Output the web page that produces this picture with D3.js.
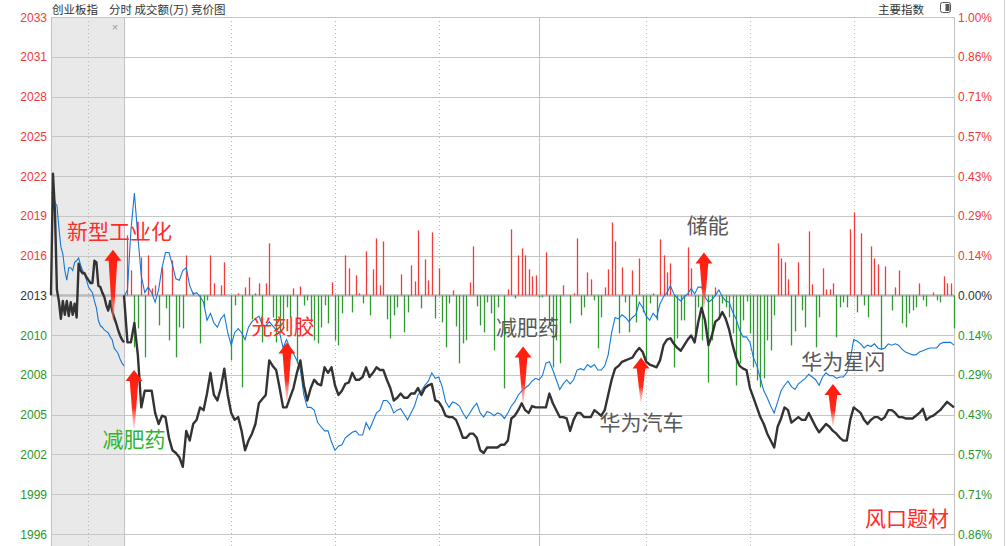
<!DOCTYPE html>
<html><head><meta charset="utf-8">
<script src="https://cdn.jsdelivr.net/npm/d3@7/dist/d3.min.js"></script>
<style>
html,body{margin:0;padding:0;background:#fff;}
svg{display:block;font-family:"Liberation Sans",Arial,sans-serif;}
</style></head><body>
<svg id="c" width="1007" height="546"></svg>
<script>
// ---------------- data ----------------
const basePrice = 2013.1;
const leftTickLabels = ["2033","2031","2028","2025","2022","2019","2016","2013","2010","2008","2005","2002","1999","1996"];
const rightTickLabels = ["1.00%","0.86%","0.71%","0.57%","0.43%","0.29%","0.14%","0.00%","0.14%","0.29%","0.43%","0.57%","0.71%","0.86%"];
const tickSteps = [7,6,5,4,3,2,1,0,-1,-2,-3,-4,-5,-6]; // in 1/7 percent
const gridMinutes = [31,61,91,151,181,211];
const noonMinute = 120;

// call-auction (9:15-9:25) samples
const auctionPrice = [2013.1,2021.9,2019.2,2013.5,2012.7,2011.4,2012.7,2011.7,2012.7,2011.6,2012.6,2011.7,2012.5,2011.5,
  2015.4,2014.9,2014.7,2014.7,2014.4,2014.2,2014.0,2014.0,2015.6,2015.5,2013.8,2013.7,2013.3,2013.0,2012.4,2012.0,
  2012.7,2012.0,2011.5,2011.1,2010.6,2010.2,2009.9,2009.7];
const auctionAvg = [2020.5,2020.5,2019.8,2019.6,2018.0,2016.6,2016.1,2014.9,2014.2,2015.1,2015.1,2014.9,2015.5,2015.6,
  2015.8,2015.3,2014.9,2014.7,2014.2,2013.7,2013.5,2013.3,2012.7,2012.2,2011.3,2010.9,2010.8,2010.6,2010.5,2010.4,
  2010.1,2009.9,2009.3,2009.1,2008.9,2008.5,2008.2,2008.0];

// minute series 9:30 .. 15:00 (241 points)
const priceLine = [
2013.1,2009.7,2009.7,2011.1,2008.8,2005.0,2006.2,2006.2,2006.2,2004.6,
2003.8,2004.4,2004.3,2002.8,2001.9,2001.7,2001.4,2000.7,2003.3,2002.6,
2003.8,2004.1,2005.0,2004.8,2006.0,2007.5,2005.9,2005.5,2006.4,2007.8,
2005.9,2004.6,2004.1,2004.3,2003.3,2001.9,2002.6,2003.1,2003.8,2005.3,
2005.6,2005.9,2008.4,2008.0,2007.7,2006.4,2005.0,2005.0,2005.7,2006.4,
2007.5,2008.4,2006.6,2005.5,2006.4,2007.0,2006.7,2006.6,2007.9,2007.5,
2007.9,2006.6,2005.9,2006.2,2006.7,2006.8,2007.5,2007.0,2007.0,2007.2,
2007.9,2007.2,2007.5,2007.9,2007.7,2007.7,2007.0,2006.4,2005.5,2005.7,
2006.0,2005.7,2005.7,2006.0,2006.0,2006.4,2005.9,2006.4,2006.6,2006.7,
2005.5,2005.4,2005.0,2004.4,2004.3,2004.3,2004.1,2003.5,2002.8,2002.8,
2003.1,2003.1,2002.8,2001.9,2001.7,2002.1,2002.1,2002.1,2002.1,2002.3,
2002.3,2002.6,2004.2,2004.4,2004.8,2005.3,2004.8,2004.6,2005.1,2005.0,
2005.0,2005.0,2005.0,2006.0,2005.3,2004.8,2004.3,2004.3,2004.2,2003.3,
2004.1,2004.6,2004.6,2004.3,2004.3,2004.3,2004.8,2004.6,2004.4,2004.8,
2005.9,2007.0,2007.8,2008.0,2008.3,2008.4,2008.5,2008.6,2009.0,2009.3,
2009.0,2008.3,2008.1,2008.0,2007.9,2008.4,2009.5,2009.9,2010.0,2009.6,
2009.3,2009.1,2009.5,2009.9,2010.2,2009.7,2011.1,2012.2,2011.3,2009.5,
2010.2,2011.2,2011.4,2011.9,2011.4,2010.6,2009.5,2008.6,2008.0,2007.8,
2007.7,2006.4,2005.7,2005.0,2004.3,2003.8,2003.1,2002.6,2002.1,2003.6,
2004.2,2005.0,2004.8,2003.9,2004.1,2004.3,2004.1,2004.1,2004.6,2004.1,
2003.6,2003.2,2003.5,2003.8,2003.6,2003.3,2003.1,2002.8,2002.6,2002.6,
2004.1,2005.0,2004.8,2004.6,2004.1,2003.8,2004.1,2004.3,2004.3,2004.1,
2004.3,2004.8,2004.8,2004.6,2004.3,2004.3,2004.2,2004.2,2004.2,2004.4,
2004.6,2004.9,2004.1,2004.3,2004.4,2004.6,2004.8,2005.1,2005.4,2005.2,2005.0];

const avgLine = [
2013.0,2013.5,2017.8,2020.5,2017.4,2014.5,2013.3,2013.7,2013.3,2012.6,
2013.5,2015.1,2016.2,2016.2,2015.3,2014.3,2014.2,2014.9,2015.1,2013.8,
2013.2,2013.3,2013.0,2012.6,2011.3,2011.8,2011.1,2010.8,2011.4,2011.7,
2010.4,2009.5,2010.4,2010.7,2010.4,2009.9,2010.8,2011.2,2011.4,2011.6,
2011.0,2010.9,2011.2,2010.9,2010.6,2010.4,2009.3,2009.9,2009.3,2008.9,
2008.4,2007.7,2005.9,2005.0,2005.0,2004.8,2003.9,2003.6,2003.3,2003.3,
2002.5,2001.9,2002.2,2002.3,2002.8,2003.0,2003.2,2003.3,2003.0,2003.0,
2003.9,2003.4,2004.0,2004.6,2004.8,2005.5,2005.5,2005.2,2004.6,2004.8,
2004.9,2004.5,2004.1,2004.6,2005.1,2005.9,2006.2,2006.6,2006.9,2007.5,
2007.1,2007.2,2006.5,2005.4,2005.0,2005.4,2005.3,2005.1,2004.6,2004.2,
2004.6,2005.0,2005.3,2004.6,2004.3,2004.7,2004.6,2004.4,2004.6,2004.5,
2004.2,2004.6,2005.1,2005.4,2005.9,2006.2,2006.4,2006.6,2006.9,2007.1,
2007.0,2007.3,2008.2,2008.3,2007.7,2007.0,2006.3,2006.7,2007.0,2006.7,
2007.0,2007.7,2007.8,2007.7,2008.1,2007.9,2008.1,2007.7,2007.7,2008.0,
2008.8,2010.4,2011.5,2011.4,2011.7,2011.5,2011.2,2011.5,2011.7,2012.6,
2012.2,2011.6,2011.3,2011.8,2011.5,2012.5,2013.0,2013.3,2013.8,2013.2,
2012.9,2012.7,2013.0,2013.2,2013.6,2013.2,2013.7,2013.7,2013.0,2012.6,
2012.8,2013.1,2013.5,2013.0,2012.7,2012.6,2011.9,2011.4,2010.6,2010.1,
2010.1,2009.7,2008.6,2008.0,2007.1,2006.2,2005.7,2005.1,2004.6,2005.4,
2006.2,2006.6,2006.9,2006.5,2006.3,2006.7,2006.9,2007.1,2007.4,2007.2,
2007.0,2006.6,2007.2,2007.5,2007.3,2007.3,2007.1,2007.2,2007.2,2007.5,
2008.5,2009.9,2009.8,2009.6,2009.3,2009.5,2009.4,2009.6,2009.3,2009.2,
2009.3,2009.6,2009.5,2009.6,2009.5,2009.2,2009.0,2008.9,2008.8,2008.8,
2009.0,2009.1,2009.2,2009.3,2009.3,2009.3,2009.6,2009.7,2009.7,2009.7,2009.5];

// bar series: minute index and signed amount (positive red, negative green)
const barMinute = [1,2,3,4,5,6,7,8,9,10,11,12,13,14,15,16,17,18,20,22,23,24,25,26,28,29,31,32,33,34,35,36,37,38,39,
 40,41,42,43,44,45,46,47,48,49,50,51,52,53,54,55,56,57,58,59,60,61,62,63,64,65,66,67,68,69,70,71,72,73,74,75,76,77,78,79,
 80,81,82,83,84,85,86,87,88,89,90,91,92,93,94,95,96,97,98,99,100,101,102,103,104,105,106,107,108,110,111,112,113,114,115,116,117,118,119,
 120,121,122,123,124,125,126,127,129,130,131,132,133,134,135,136,137,138,139,140,141,142,143,144,145,146,147,148,149,
 150,151,152,153,154,155,156,157,158,159,160,161,162,163,164,165,166,167,169,170,171,172,173,174,175,176,177,178,179,
 180,181,182,183,184,185,186,187,188,189,190,191,192,193,194,195,196,197,198,199,200,201,202,203,204,205,206,207,208,209,
 210,211,212,213,214,215,216,217,218,219,220,222,223,224,225,226,227,228,229,230,231,232,234,235,236,237,238,239,240];
const barAmount = [60,25,-52,-33,38,-62,40,7,10,-30,28,-13,-45,35,-62,-32,-33,40,3,-48,-12,-5,40,12,10,33,-65,-10,2,-92,8,18,-24,2,12,
 -47,12,52,-22,-47,-38,-32,-12,-22,7,-68,9,-10,-5,-27,-45,-48,-32,-10,-28,13,-45,-50,-18,40,27,-17,20,2,-8,44,-20,26,57,10,54,-24,-43,-20,-12,
 21,-37,-17,30,14,65,-13,36,15,63,-23,27,-27,-52,-8,5,-31,-68,-48,-45,13,49,-11,-30,-37,-7,-18,-55,-12,-93,6,66,-3,40,47,40,26,19,20,
 -2,-2,43,-30,-72,-45,-68,10,-28,2,57,-20,-12,23,16,-5,-53,-22,8,26,73,54,-38,28,-7,-37,25,-27,37,
 -17,-65,-8,2,-25,56,40,23,32,-72,-43,-25,-25,48,27,-38,-12,-45,-87,-45,8,-20,-8,-12,-22,-38,-90,-68,-25,
 -6,-38,-72,-85,-92,-83,-45,-55,-20,52,37,33,16,-50,-36,33,-15,-32,64,11,-52,-22,27,6,6,12,-42,-12,-7,-12,
 66,83,-17,62,-10,-22,49,37,31,-54,29,-15,8,25,-28,-32,-18,-15,-12,12,-5,-11,3,-5,-7,19,12,12,-33];

// annotations (t = minutes from 9:30, negative = auction area; price = index level)
const annotations = [
 {text:"新型工业化", t:-16.5, price:2017.2, color:"#ff2b2b"},
 {text:"减肥药", t:-6.2, price:2002.1, color:"#2eb52e"},
 {text:"光刻胶", t:36.9, price:2010.3, color:"#ff2b2b"},
 {text:"减肥药", t:107.6, price:2010.2, color:"#585858"},
 {text:"华为汽车", t:137.5, price:2003.4, color:"#585858"},
 {text:"储能", t:162.7, price:2017.6, color:"#585858"},
 {text:"华为星闪", t:195.8, price:2007.8, color:"#585858"},
 {text:"风口题材", t:214.3, price:1996.4, color:"#ff2b2b"}
];
const arrowMarks = [
 {t:-3.2, price:2016.4, len:71},
 {t:2.9, price:2007.7, len:58},
 {t:47.1, price:2009.7, len:58},
 {t:115.4, price:2009.4, len:56},
 {t:149.5, price:2008.6, len:44},
 {t:167.7, price:2016.2, len:55},
 {t:205, price:2006.7, len:41}
];

// ---------------- layout ----------------
const W = 1007, H = 546;
const plotL = 51, plotR = 954, plotT = 17, plotB = 546;
const auctionSpan = 21.11; // auction area width in minute units

const svg = d3.select("#c");
const xAll = d3.scaleLinear().domain([-auctionSpan, 240]).range([plotL, plotR]);
const xAuction = d3.scaleLinear().domain([0, auctionPrice.length - 1]).range([xAll(-auctionSpan), xAll(0)]);
const yPct = d3.scaleLinear().domain([-6/7, 1]).range([534, plotT]);
const y = p => yPct((p / basePrice - 1) * 100);
const barH = d3.scaleLinear().domain([0, 100]).range([0, 100]);

const RED = "#f23b3b", GREEN = "#2f9a2f", DARK = "#333";
const tickColor = s => s > 0 ? "#ee3b3b" : (s < 0 ? "#2a962a" : "#333");

svg.append("rect").attr("width", W).attr("height", H).attr("fill", "#fff");

// auction shaded area
svg.append("rect")
  .attr("x", xAll(-auctionSpan)).attr("y", plotT)
  .attr("width", xAll(0) - xAll(-auctionSpan)).attr("height", plotB - plotT)
  .attr("fill", "#e9e9e9");

// horizontal grid
const gGrid = svg.append("g");
gGrid.selectAll("line.h").data(tickSteps).join("line")
  .attr("x1", plotL).attr("x2", plotR)
  .attr("y1", d => Math.round(yPct(d / 7)) + 0.5).attr("y2", d => Math.round(yPct(d / 7)) + 0.5)
  .attr("stroke", d => d === 0 ? "#b9b9b9" : "#c6c6c6")
  .attr("stroke-width", d => d === 0 ? 2.5 : 1);

// vertical grid
gGrid.selectAll("line.vd").data(gridMinutes).join("line")
  .attr("x1", d => Math.round(xAll(d)) + 0.5).attr("x2", d => Math.round(xAll(d)) + 0.5)
  .attr("y1", plotT).attr("y2", plotB)
  .attr("stroke", "#b4b4b4").attr("stroke-dasharray", "1,3");
gGrid.append("line")
  .attr("x1", Math.round(xAll(-auctionSpan / 2)) + 0.5).attr("x2", Math.round(xAll(-auctionSpan / 2)) + 0.5)
  .attr("y1", plotT).attr("y2", plotB).attr("stroke", "#b4b4b4").attr("stroke-dasharray", "1,3");
[xAll(-auctionSpan), xAll(0), xAll(noonMinute), xAll(240)].forEach(x => {
  gGrid.append("line").attr("x1", Math.round(x) + 0.5).attr("x2", Math.round(x) + 0.5)
    .attr("y1", plotT).attr("y2", plotB).attr("stroke", "#c2c2c2");
});
svg.append("line").attr("x1", 1004.5).attr("x2", 1004.5).attr("y1", 0).attr("y2", H).attr("stroke", "#d0d0d0");

// close mark in auction area
svg.append("text").attr("x", xAll(-2.6)).attr("y", 31).attr("text-anchor", "middle")
  .attr("font-size", 11).attr("fill", "#9a9a9a").text("×");

// bars
const baseY = y(basePrice);
svg.append("g").selectAll("line").data(barMinute.map((m, i) => ({m, v: barAmount[i]}))).join("line")
  .attr("x1", d => Math.round(xAll(d.m)) + 0.5).attr("x2", d => Math.round(xAll(d.m)) + 0.5)
  .attr("y1", baseY)
  .attr("y2", d => d.v >= 0 ? baseY - barH(d.v) : baseY + barH(-d.v))
  .attr("stroke", d => d.v >= 0 ? RED : GREEN).attr("stroke-width", 1.3);

// lines
const lineT = d3.line().x((d, i) => xAll(i)).y(d => y(d));
const lineA = d3.line().x((d, i) => xAuction(i)).y(d => y(d));
svg.append("path").attr("d", lineA(auctionAvg)).attr("fill", "none").attr("stroke", "#1478d8").attr("stroke-width", 1.1);
svg.append("path").attr("d", lineT(avgLine)).attr("fill", "none").attr("stroke", "#1478d8").attr("stroke-width", 1.1);
svg.append("path").attr("d", lineA(auctionPrice)).attr("fill", "none").attr("stroke", DARK).attr("stroke-width", 2.4).attr("stroke-linejoin", "round");
svg.append("path").attr("d", lineT(priceLine)).attr("fill", "none").attr("stroke", DARK).attr("stroke-width", 2.4).attr("stroke-linejoin", "round");

// axis labels
svg.append("g").selectAll("text").data(tickSteps).join("text")
  .attr("x", 47).attr("y", d => yPct(d / 7) + 4.5).attr("text-anchor", "end")
  .attr("font-size", 12).attr("fill", d => tickColor(d))
  .text((d, i) => leftTickLabels[i]);
svg.append("g").selectAll("text").data(tickSteps).join("text")
  .attr("x", 958).attr("y", d => yPct(d / 7) + 4.5)
  .attr("font-size", 12).attr("fill", d => tickColor(d))
  .text((d, i) => rightTickLabels[i]);

// title bar
const cjk = '"Noto Sans CJK SC","Noto Sans",sans-serif';
const titleY = 13.5, titleSize = 11.5;
svg.append("text").attr("x", 52).attr("y", titleY).attr("font-family", cjk).attr("font-size", titleSize).attr("fill", "#333").text("创业板指");
svg.append("text").attr("x", 109).attr("y", titleY).attr("font-family", cjk).attr("font-size", titleSize).attr("fill", "#333").text("分时 成交额(万) 竞价图");
svg.append("text").attr("x", 878).attr("y", titleY).attr("font-family", cjk).attr("font-size", titleSize).attr("fill", "#333").text("主要指数");
svg.append("rect").attr("x", 940.5).attr("y", 2.5).attr("width", 10).attr("height", 10).attr("rx", 2)
  .attr("fill", "#fff").attr("stroke", "#555");
svg.append("rect").attr("x", 945.5).attr("y", 4).attr("width", 4).attr("height", 7).attr("fill", "#555");

// arrows
const defs = svg.append("defs");
const grad = defs.append("linearGradient").attr("id", "ag").attr("x1", 0).attr("y1", 0).attr("x2", 0).attr("y2", 1);
grad.append("stop").attr("offset", "0%").attr("stop-color", "#ff1d0d");
grad.append("stop").attr("offset", "65%").attr("stop-color", "#ff2a1a");
grad.append("stop").attr("offset", "100%").attr("stop-color", "#ff8a80").attr("stop-opacity", 0.35);
svg.append("g").selectAll("path").data(arrowMarks).join("path")
  .attr("transform", d => `translate(${xAll(d.t)},${y(d.price)})`)
  .attr("d", d => `M0,0 L8.5,11 L4.3,11 L0.6,${d.len} L-0.6,${d.len} L-4.3,11 L-8.5,11 Z`)
  .attr("fill", "url(#ag)");

// annotation labels
svg.append("g").selectAll("text").data(annotations).join("text")
  .attr("x", d => xAll(d.t)).attr("y", d => y(d.price))
  .attr("font-family", cjk).attr("font-size", 21).attr("fill", d => d.color)
  .text(d => d.text);
</script>
</body></html>
